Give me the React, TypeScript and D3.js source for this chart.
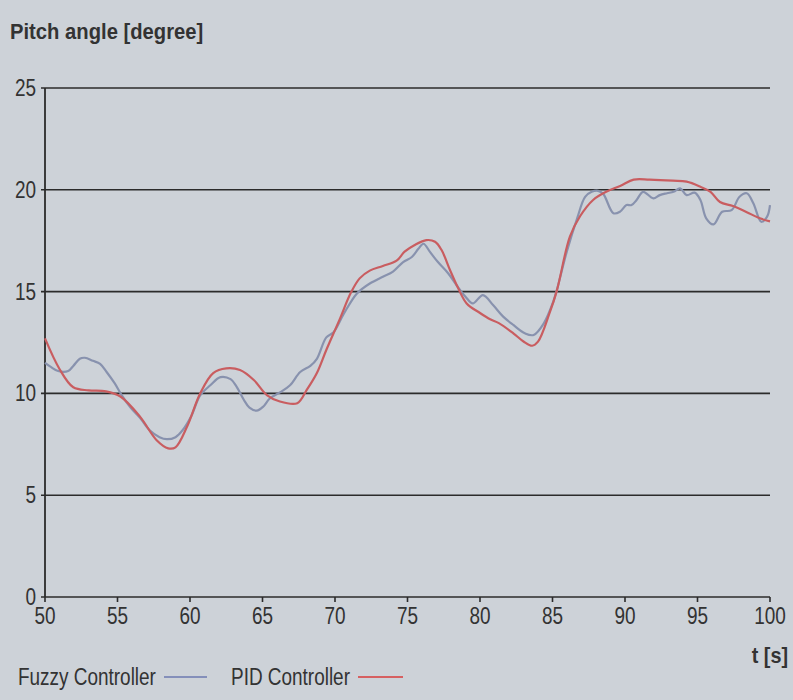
import React from "react";
import * as d3 from "d3";

const fuzzyT = [50, 50.4, 50.9, 51.6, 51.95, 52.4, 52.75, 53.3, 53.8, 54.25, 54.8, 55.3, 55.9, 56.55, 57.2, 57.9, 58.4, 59.0, 59.5, 60.1, 60.7, 61.4, 62.1, 62.8, 63.2, 63.7, 64.1, 64.6, 65.05, 65.5, 66.2, 66.9, 67.6, 68.3, 68.75, 69.4, 69.9, 70.6, 71.5, 72.4, 73.3, 74.0, 74.7, 75.3, 75.75, 76.1, 76.55, 77.1, 77.8, 78.4, 79.0, 79.5, 80.2, 80.9, 81.6, 82.3, 83.1, 83.7, 84.4, 85.05, 85.3, 86.0, 86.7, 87.25, 87.7, 88.15, 88.5, 89.2, 89.65, 90.1, 90.45, 90.8, 91.25, 91.95, 92.4, 92.9, 93.35, 93.8, 94.25, 94.8, 95.2, 95.6, 96.1, 96.7, 97.35, 97.9, 98.4, 98.85, 99.4, 99.8, 100];
const fuzzyV = [11.5, 11.3, 11.1, 11.1, 11.35, 11.7, 11.75, 11.6, 11.45, 11.05, 10.5, 9.9, 9.3, 8.8, 8.2, 7.85, 7.75, 7.85, 8.2, 8.9, 9.9, 10.4, 10.8, 10.7, 10.35, 9.7, 9.3, 9.15, 9.35, 9.75, 10.05, 10.4, 11.05, 11.35, 11.7, 12.75, 13.0, 13.9, 14.9, 15.4, 15.73, 15.98, 16.45, 16.7, 17.1, 17.35, 16.95, 16.45, 15.9, 15.3, 14.75, 14.42, 14.83, 14.34, 13.77, 13.36, 12.95, 12.87, 13.44, 14.5, 15.08, 17.0, 18.6, 19.65, 19.9, 19.95, 19.8, 18.85, 18.92, 19.25, 19.25, 19.5, 19.9, 19.58, 19.74, 19.83, 19.9, 20.07, 19.74, 19.86, 19.5, 18.6, 18.3, 18.92, 19.0, 19.66, 19.83, 19.34, 18.43, 18.68, 19.25];

const pidT = [50, 51.0, 51.95, 53, 54.2, 55.2, 56.55, 57.7, 58.5, 59.0, 59.8, 60.7, 61.6, 62.5, 63.45, 64.4, 65.3, 66.2, 67.4, 68.05, 68.75, 69.4, 70.3, 71.1, 71.7, 72.4, 73.3, 74.25, 74.8, 75.5, 76.3, 76.9, 77.35, 77.93, 78.5, 79.08, 80.0, 80.7, 81.3, 82.3, 83.0, 83.6, 84.0, 84.8, 85.3, 86.2, 86.9, 87.8, 88.7, 89.7, 90.6, 91.7, 93.3, 94.25, 95.2, 95.9, 96.55, 97.45, 98.4, 99.3, 100];
const pidV = [12.7, 11.2, 10.3, 10.15, 10.1, 9.85, 8.86, 7.7, 7.3, 7.35, 8.37, 10.0, 11.0, 11.23, 11.15, 10.66, 9.92, 9.6, 9.52, 10.17, 11.0, 12.13, 13.6, 14.95, 15.65, 16.03, 16.26, 16.52, 16.96, 17.29, 17.53, 17.45, 17.04, 16.06, 15.16, 14.42, 13.95, 13.64, 13.45, 12.95, 12.55, 12.34, 12.54, 13.95, 15.05, 17.7, 18.7, 19.5, 19.9, 20.2, 20.5, 20.5, 20.45, 20.4, 20.15, 19.9, 19.4, 19.2, 18.9, 18.6, 18.45];

const xTicks = [50, 55, 60, 65, 70, 75, 80, 85, 90, 95, 100];
const yTicks = [0, 5, 10, 15, 20, 25];

const titleText = "Pitch angle [degree]";
const xAxisTitle = "t [s]";
const seriesNames = ["Fuzzy Controller", "PID Controller"];

const W = 793;
const H = 700;
const BG = "#cdd2d8";
const GRID = "#2b2b2b";
const TXT = "#333333";
const FUZZY = "#8892ae";
const PID = "#c95d60";
const FONT = "'Liberation Sans', Arial, sans-serif";
const SX = 0.79;

function CText(props: {
  x: number;
  y: number;
  anchor?: "start" | "middle" | "end";
  size: number;
  sx?: number;
  weight?: string;
  children: React.ReactNode;
}) {
  const { x, y, anchor = "start", size, sx = SX, weight = "normal", children } = props;
  return (
    <text
      transform={`translate(${x},${y}) scale(${sx},1)`}
      textAnchor={anchor}
      fontFamily={FONT}
      fontSize={size}
      fontWeight={weight}
      fill={TXT}
    >
      {children}
    </text>
  );
}

export default function App() {
  const x = d3.scaleLinear().domain([50, 100]).range([45, 770]);
  const y = d3.scaleLinear().domain([0, 25]).range([597, 88]);

  const fuzzyData = fuzzyT.map((t, i) => [t, fuzzyV[i]] as [number, number]);
  const pidData = pidT.map((t, i) => [t, pidV[i]] as [number, number]);

  const fuzzyLine = d3
    .line<[number, number]>()
    .x((d) => x(d[0]))
    .y((d) => y(d[1]))
    .curve(d3.curveCatmullRom.alpha(0.5));
  const pidLine = d3
    .line<[number, number]>()
    .x((d) => x(d[0]))
    .y((d) => y(d[1]))
    .curve(d3.curveCatmullRom.alpha(0.5));

  return (
    <svg
      width={W}
      height={H}
      style={{ position: "absolute", left: 0, top: 0, display: "block" }}
    >
      <rect x={0} y={0} width={W} height={H} fill={BG} />
      <CText x={10} y={39} size={22} sx={0.92} weight="bold">
        {titleText}
      </CText>

      {yTicks.map((v) => (
        <g key={"y" + v}>
          <line x1={x(50) - 4} x2={x(100)} y1={y(v)} y2={y(v)} stroke={GRID} strokeWidth={1.6} />
          <CText x={36} y={y(v) + 8} anchor="end" size={24}>
            {v}
          </CText>
        </g>
      ))}
      <line x1={x(50)} x2={x(50)} y1={y(25)} y2={y(0)} stroke={GRID} strokeWidth={1.8} />

      {xTicks.map((v) => (
        <g key={"x" + v}>
          <line x1={x(v)} x2={x(v)} y1={y(0)} y2={y(0) + 5} stroke={GRID} strokeWidth={1.6} />
          <CText x={x(v)} y={y(0) + 27} anchor="middle" size={24}>
            {v}
          </CText>
        </g>
      ))}

      <path d={fuzzyLine(fuzzyData) || ""} fill="none" stroke={FUZZY} strokeWidth={2.2} strokeLinejoin="round" />
      <path d={pidLine(pidData) || ""} fill="none" stroke={PID} strokeWidth={2.2} strokeLinejoin="round" />

      <CText x={788} y={663} anchor="end" size={22} sx={0.9} weight="bold">
        {xAxisTitle}
      </CText>

      <CText x={18} y={685} size={24}>
        {seriesNames[0]}
      </CText>
      <line x1={164} x2={207} y1={677} y2={677} stroke="#6b78b0" strokeWidth={1.5} />
      <CText x={231} y={685} size={24}>
        {seriesNames[1]}
      </CText>
      <line x1={358} x2={403} y1={677} y2={677} stroke="#d83a3a" strokeWidth={1.5} />
    </svg>
  );
}
